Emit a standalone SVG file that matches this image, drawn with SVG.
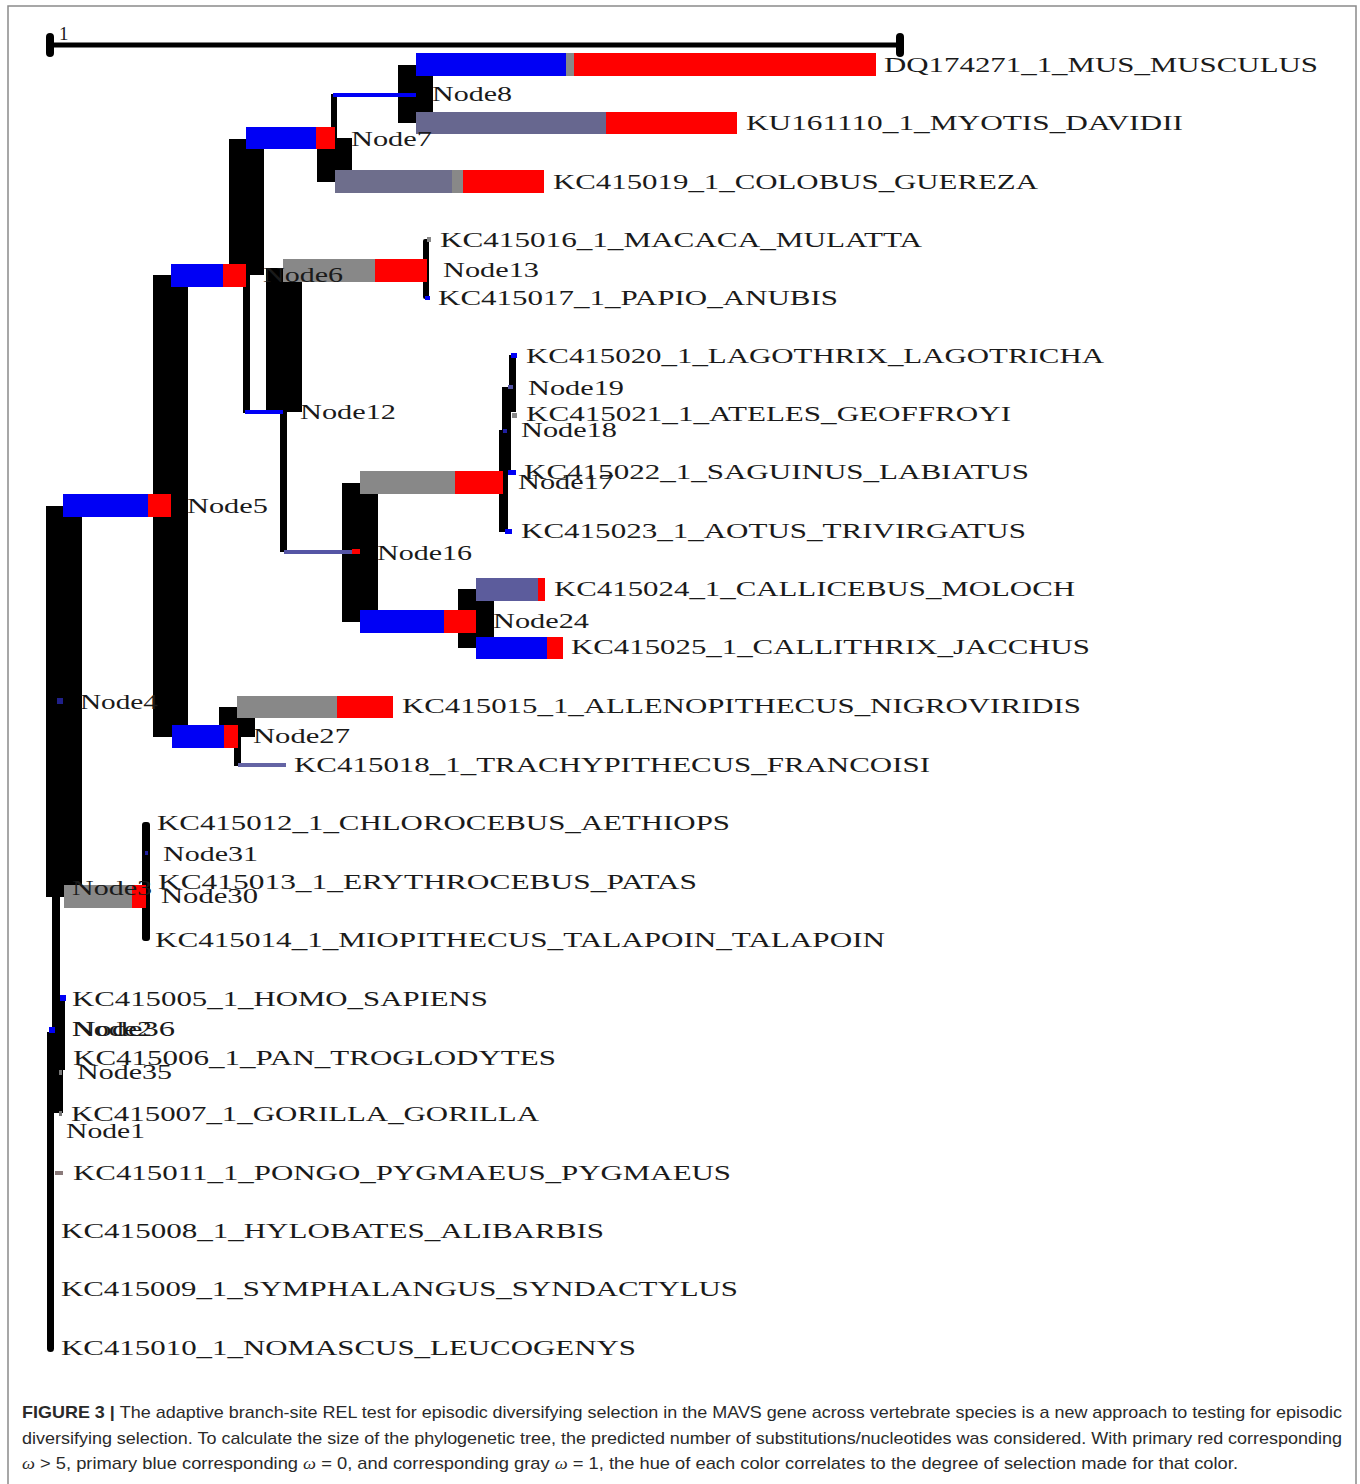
<svg xmlns="http://www.w3.org/2000/svg" width="1360" height="1484" viewBox="0 0 1360 1484">
<style>
.v{fill:#000}
.b{fill:#0000f5}
.r{fill:#ff0000}
.g{fill:#888888}
.s{fill:#67678f}
.t{font-family:"Liberation Serif","Times New Roman",serif;font-size:21px;fill:#1a1a1a}
.c{font-family:"Liberation Sans",Arial,sans-serif;font-size:17px;fill:#2a2a2a}
.w{font-family:"Liberation Serif",serif;font-style:italic}
</style>
<rect x="8" y="6" width="1348" height="1490" fill="#fff" stroke="#8a8a8a" stroke-width="1.5"/>
<g id="scale">
<line x1="50" y1="45" x2="900" y2="45" stroke="#000" stroke-width="5"/>
<rect x="46" y="33" width="8" height="24" rx="4" class="v"/>
<rect x="896" y="33" width="8" height="24" rx="4" class="v"/>
<text x="59" y="40" font-family="Liberation Serif,serif" font-size="19" fill="#1a1a1a">1</text>
</g>
<g id="connectors">
<rect class="v" x="398" y="65" width="35" height="58"/>
<rect class="v" x="317" y="138" width="35" height="44"/>
<rect class="v" x="331" y="94" width="6" height="45"/>
<rect class="v" x="229" y="139" width="35" height="136"/>
<rect class="v" x="243" y="274" width="7" height="139"/>
<rect class="v" x="266" y="268" width="36" height="144"/>
<rect class="v" x="280" y="411" width="7" height="141"/>
<rect class="v" x="423" y="239" width="6" height="60" rx="2"/>
<rect class="v" x="342" y="483" width="36" height="139"/>
<rect class="v" x="499" y="430" width="9" height="102"/>
<rect class="v" x="502" y="387" width="9" height="86"/>
<rect class="v" x="509" y="355" width="7" height="57"/>
<rect class="v" x="458" y="589" width="36" height="59"/>
<rect class="v" x="153" y="275" width="35" height="462"/>
<rect class="v" x="219" y="707" width="36" height="30"/>
<rect class="v" x="234" y="737" width="7" height="29"/>
<rect class="v" x="46" y="506" width="36" height="391"/>
<rect class="v" x="142" y="822" width="8" height="119" rx="3"/>
<rect class="v" x="52" y="897" width="8" height="136"/>
<rect class="v" x="60" y="995" width="5" height="75"/>
<rect class="v" x="47" y="1032" width="16" height="81"/>
<rect class="v" x="47" y="1032" width="7" height="320" rx="3.5"/>

<rect class="b" x="416" y="53" width="150" height="23"/>
<rect class="g" x="566" y="53" width="8" height="23"/>
<rect class="r" x="574" y="53" width="302" height="23"/>
<rect class="s" x="416" y="112" width="190" height="22"/>
<rect class="r" x="606" y="112" width="131" height="22"/>
<rect class="b" x="246" y="127" width="70" height="22"/>
<rect class="r" x="316" y="127" width="19" height="22"/>
<rect x="335" y="170" width="117" height="23" fill="#6e6e8c"/>
<rect class="g" x="452" y="170" width="11" height="23"/>
<rect class="r" x="463" y="170" width="81" height="23"/>
<rect class="b" x="171" y="264" width="52" height="23"/>
<rect class="r" x="223" y="264" width="23" height="23"/>
<rect class="g" x="283" y="259" width="92" height="23"/>
<rect class="r" x="375" y="259" width="52" height="23"/>
<rect class="g" x="360" y="471" width="95" height="23"/>
<rect class="r" x="455" y="471" width="48" height="23"/>
<rect class="b" x="360" y="610" width="84" height="23"/>
<rect class="r" x="444" y="610" width="32" height="23"/>
<rect x="476" y="578" width="62" height="23" fill="#5c5c9c"/>
<rect class="r" x="538" y="578" width="7" height="23"/>
<rect class="b" x="476" y="637" width="71" height="22"/>
<rect class="r" x="547" y="637" width="16" height="22"/>
<rect class="b" x="63" y="494" width="85" height="23"/>
<rect class="r" x="148" y="494" width="23" height="23"/>
<rect class="b" x="172" y="725" width="52" height="23"/>
<rect class="r" x="224" y="725" width="14" height="23"/>
<rect class="g" x="237" y="696" width="100" height="22"/>
<rect class="r" x="337" y="696" width="56" height="22"/>
<rect class="g" x="64" y="885" width="68" height="23"/>
<rect class="r" x="132" y="885" width="14" height="23"/>

<rect class="b" x="333" y="93" width="83" height="4"/>
<rect class="b" x="245" y="410" width="38" height="4"/>
<rect x="284" y="550" width="68" height="4" fill="#5555a5"/>
<rect class="r" x="352" y="549" width="8" height="5"/>
<rect x="238" y="763" width="48" height="4" fill="#6464a4"/>

<rect class="g" x="427" y="237" width="4" height="5"/>
<rect class="b" x="425" y="296" width="5" height="4"/>
<rect class="b" x="511" y="353" width="6" height="5"/>
<rect x="508" y="385" width="5" height="4" fill="#5050a0"/>
<rect class="g" x="512" y="413" width="5" height="5"/>
<rect x="503" y="429" width="4" height="4" fill="#2020a0"/>
<rect class="b" x="508" y="470" width="8" height="5"/>
<rect class="b" x="505" y="529" width="7" height="5"/>
<rect x="57" y="698" width="6" height="6" fill="#20208a"/>
<rect x="145" y="851" width="3" height="4" fill="#2020a0"/>
<rect class="b" x="60" y="995" width="6" height="6"/>
<rect class="b" x="49" y="1027" width="6" height="6"/>
<rect x="55" y="1171" width="8" height="4" fill="#8a7a7a"/>
<rect x="59" y="1070" width="3" height="5" fill="#777"/>
<rect x="59" y="1111" width="3" height="5" fill="#777"/>
</g>
<g id="DQ174271"><text class="t" x="884" y="72" textLength="434" lengthAdjust="spacingAndGlyphs">DQ174271_1_MUS_MUSCULUS</text></g>
<g id="KU161110"><text class="t" x="746" y="130" textLength="437" lengthAdjust="spacingAndGlyphs">KU161110_1_MYOTIS_DAVIDII</text></g>
<g id="KC415019"><text class="t" x="553" y="189" textLength="485" lengthAdjust="spacingAndGlyphs">KC415019_1_COLOBUS_GUEREZA</text></g>
<g id="KC415016"><text class="t" x="440" y="247" textLength="482" lengthAdjust="spacingAndGlyphs">KC415016_1_MACACA_MULATTA</text></g>
<g id="KC415017"><text class="t" x="438" y="305" textLength="400" lengthAdjust="spacingAndGlyphs">KC415017_1_PAPIO_ANUBIS</text></g>
<g id="KC415020"><text class="t" x="526" y="363" textLength="578" lengthAdjust="spacingAndGlyphs">KC415020_1_LAGOTHRIX_LAGOTRICHA</text></g>
<g id="KC415021"><text class="t" x="526" y="421" textLength="485" lengthAdjust="spacingAndGlyphs">KC415021_1_ATELES_GEOFFROYI</text></g>
<g id="KC415022"><text class="t" x="524" y="479" textLength="505" lengthAdjust="spacingAndGlyphs">KC415022_1_SAGUINUS_LABIATUS</text></g>
<g id="KC415023"><text class="t" x="521" y="538" textLength="505" lengthAdjust="spacingAndGlyphs">KC415023_1_AOTUS_TRIVIRGATUS</text></g>
<g id="KC415024"><text class="t" x="554" y="596" textLength="521" lengthAdjust="spacingAndGlyphs">KC415024_1_CALLICEBUS_MOLOCH</text></g>
<g id="KC415025"><text class="t" x="571" y="654" textLength="519" lengthAdjust="spacingAndGlyphs">KC415025_1_CALLITHRIX_JACCHUS</text></g>
<g id="KC415015"><text class="t" x="402" y="713" textLength="679" lengthAdjust="spacingAndGlyphs">KC415015_1_ALLENOPITHECUS_NIGROVIRIDIS</text></g>
<g id="KC415018"><text class="t" x="294" y="772" textLength="636" lengthAdjust="spacingAndGlyphs">KC415018_1_TRACHYPITHECUS_FRANCOISI</text></g>
<g id="KC415012"><text class="t" x="157" y="830" textLength="573" lengthAdjust="spacingAndGlyphs">KC415012_1_CHLOROCEBUS_AETHIOPS</text></g>
<g id="KC415013"><text class="t" x="158" y="889" textLength="539" lengthAdjust="spacingAndGlyphs">KC415013_1_ERYTHROCEBUS_PATAS</text></g>
<g id="KC415014"><text class="t" x="155" y="947" textLength="730" lengthAdjust="spacingAndGlyphs">KC415014_1_MIOPITHECUS_TALAPOIN_TALAPOIN</text></g>
<g id="KC415005"><text class="t" x="72" y="1006" textLength="416" lengthAdjust="spacingAndGlyphs">KC415005_1_HOMO_SAPIENS</text></g>
<g id="KC415006"><text class="t" x="73" y="1065" textLength="483" lengthAdjust="spacingAndGlyphs">KC415006_1_PAN_TROGLODYTES</text></g>
<g id="KC415007"><text class="t" x="71" y="1121" textLength="468" lengthAdjust="spacingAndGlyphs">KC415007_1_GORILLA_GORILLA</text></g>
<g id="KC415011"><text class="t" x="73" y="1180" textLength="658" lengthAdjust="spacingAndGlyphs">KC415011_1_PONGO_PYGMAEUS_PYGMAEUS</text></g>
<g id="KC415008"><text class="t" x="61" y="1238" textLength="543" lengthAdjust="spacingAndGlyphs">KC415008_1_HYLOBATES_ALIBARBIS</text></g>
<g id="KC415009"><text class="t" x="61" y="1296" textLength="677" lengthAdjust="spacingAndGlyphs">KC415009_1_SYMPHALANGUS_SYNDACTYLUS</text></g>
<g id="KC415010"><text class="t" x="61" y="1355" textLength="575" lengthAdjust="spacingAndGlyphs">KC415010_1_NOMASCUS_LEUCOGENYS</text></g>
<g id="Node8"><text class="t" x="432" y="101" textLength="80" lengthAdjust="spacingAndGlyphs">Node8</text></g>
<g id="Node7"><text class="t" x="351" y="146" textLength="81" lengthAdjust="spacingAndGlyphs">Node7</text></g>
<g id="Node6"><text class="t" x="263" y="282" textLength="80" lengthAdjust="spacingAndGlyphs">Node6</text></g>
<g id="Node13"><text class="t" x="443" y="277" textLength="96" lengthAdjust="spacingAndGlyphs">Node13</text></g>
<g id="Node12"><text class="t" x="300" y="419" textLength="96" lengthAdjust="spacingAndGlyphs">Node12</text></g>
<g id="Node19"><text class="t" x="528" y="395" textLength="96" lengthAdjust="spacingAndGlyphs">Node19</text></g>
<g id="Node18"><text class="t" x="521" y="437" textLength="96" lengthAdjust="spacingAndGlyphs">Node18</text></g>
<g id="Node17"><text class="t" x="518" y="489" textLength="96" lengthAdjust="spacingAndGlyphs">Node17</text></g>
<g id="Node16"><text class="t" x="377" y="560" textLength="95" lengthAdjust="spacingAndGlyphs">Node16</text></g>
<g id="Node24"><text class="t" x="493" y="628" textLength="96" lengthAdjust="spacingAndGlyphs">Node24</text></g>
<g id="Node5"><text class="t" x="187" y="513" textLength="81" lengthAdjust="spacingAndGlyphs">Node5</text></g>
<g id="Node4"><text class="t" x="80" y="709" textLength="78" lengthAdjust="spacingAndGlyphs">Node4</text></g>
<g id="Node27"><text class="t" x="253" y="743" textLength="97" lengthAdjust="spacingAndGlyphs">Node27</text></g>
<g id="Node31"><text class="t" x="163" y="861" textLength="95" lengthAdjust="spacingAndGlyphs">Node31</text></g>
<g id="Node3"><text class="t" x="72" y="895" textLength="80" lengthAdjust="spacingAndGlyphs">Node3</text></g>
<g id="Node30"><text class="t" x="161" y="903" textLength="97" lengthAdjust="spacingAndGlyphs">Node30</text></g>
<g id="Node2"><text class="t" x="72" y="1036" textLength="80" lengthAdjust="spacingAndGlyphs">Node2</text></g>
<g id="Node36"><text class="t" x="72" y="1036" textLength="103" lengthAdjust="spacingAndGlyphs">Node36</text></g>
<g id="Node35"><text class="t" x="77" y="1079" textLength="95" lengthAdjust="spacingAndGlyphs">Node35</text></g>
<g id="Node1"><text class="t" x="66" y="1138" textLength="79" lengthAdjust="spacingAndGlyphs">Node1</text></g>
<g id="caption">
<text class="c" x="22" y="1418" textLength="1320" lengthAdjust="spacingAndGlyphs"><tspan font-weight="bold">FIGURE 3 | </tspan>The adaptive branch-site REL test for episodic diversifying selection in the MAVS gene across vertebrate species is a new approach to testing for episodic</text>
<text class="c" x="22" y="1444" textLength="1320" lengthAdjust="spacingAndGlyphs">diversifying selection. To calculate the size of the phylogenetic tree, the predicted number of substitutions/nucleotides was considered. With primary red corresponding</text>
<text class="c" x="22" y="1469" textLength="1216" lengthAdjust="spacingAndGlyphs"><tspan class="w">ω</tspan> &gt; 5, primary blue corresponding <tspan class="w">ω</tspan> = 0, and corresponding gray <tspan class="w">ω</tspan> = 1, the hue of each color correlates to the degree of selection made for that color.</text>
</g>
</svg>
